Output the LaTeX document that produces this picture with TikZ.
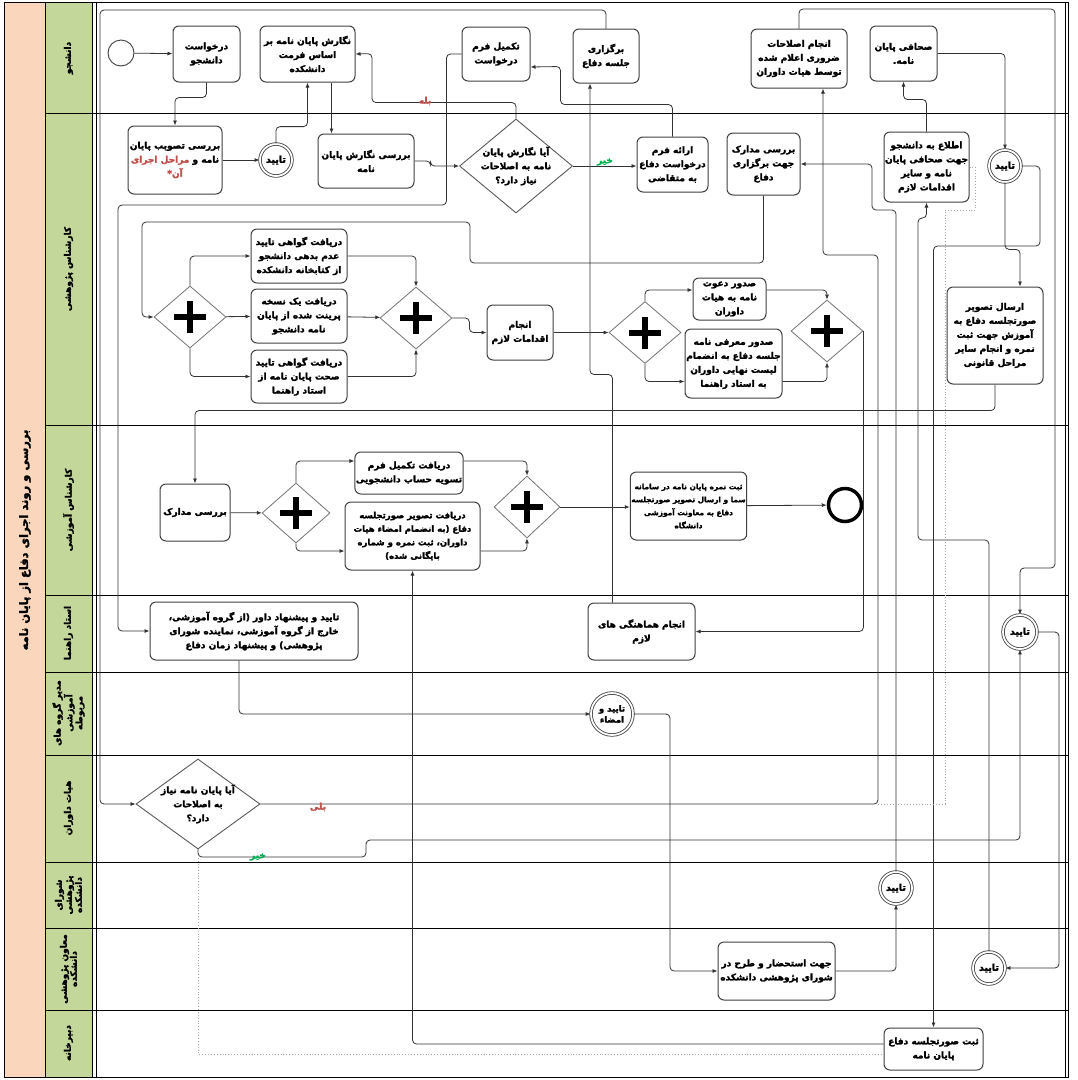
\documentclass[tikz,border=0pt]{standalone}
\usepackage{fontspec}
\usetikzlibrary{shapes.geometric,calc,arrows.meta}
\newfontfamily\fa[Script=Arabic,BoldFeatures={FakeBold=2.2}]{DejaVu Sans}
\TeXXeTstate=1
\newcommand{\rl}[1]{\beginR #1\endR}
\definecolor{poolband}{RGB}{250,215,188}
\definecolor{laneband}{RGB}{196,215,155}
\definecolor{yesred}{RGB}{192,80,77}
\definecolor{nogreen}{RGB}{0,176,80}

\tikzset{
  task/.style={draw=black!75, line width=1pt, rounded corners=6pt, fill=white, align=center, inner sep=1pt,
    font=\fa\bfseries\fontsize{9}{14}\selectfont},
  gate/.style={diamond, draw=black!55, line width=0.8pt, fill=white, inner sep=0pt, minimum width=72pt, minimum height=62pt,
    path picture={
      \fill[black] ([xshift=-16pt,yshift=-3pt]path picture bounding box.center) rectangle ([xshift=16pt,yshift=3pt]path picture bounding box.center);
      \fill[black] ([xshift=-3pt,yshift=-16pt]path picture bounding box.center) rectangle ([xshift=3pt,yshift=16pt]path picture bounding box.center);}},
  decision/.style={diamond, draw=black!65, line width=0.9pt, fill=white, inner sep=0pt},
  dtext/.style={align=center, inner sep=0pt, font=\fa\bfseries\fontsize{9}{14}\selectfont},
  startev/.style={circle, draw=black!75, line width=0.9pt, minimum size=26pt, inner sep=0pt, fill=white},
  okev/.style={circle, draw=black!75, line width=0.8pt, double=white, double distance=1.8pt, minimum size=32pt,
    inner sep=0pt, fill=white, align=center, font=\fa\bfseries\fontsize{9.5}{11}\selectfont},
  stopev/.style={circle, draw=black, line width=3.5pt, minimum size=33pt, inner sep=0pt, fill=white},
  flow/.style={draw=black!80, line width=0.8pt, rounded corners=4pt, -{Latex[length=5pt,width=4pt]}},
  assoc/.style={draw=black!35, line width=0.9pt, dotted},
  lanetxt/.style={rotate=90, align=center, inner sep=0pt, font=\fa\bfseries\fontsize{9}{10}\selectfont},
  yeslbl/.style={text=yesred, inner sep=0pt, font=\fa\bfseries\fontsize{9}{9}\selectfont},
  nolbl/.style={text=nogreen, inner sep=0pt, font=\fa\bfseries\fontsize{9}{9}\selectfont}
}

\begin{document}
\begin{tikzpicture}[x=1pt,y=1pt,yscale=-1,xscale=1]
\useasboundingbox (0,0) rectangle (1078,1080);
\fill[white] (0,0) rectangle (1078,1080);

% pool and lanes
\fill[poolband] (4,2) rectangle (45,1077);
\foreach \ya/\yb in {2/113,113/425,425/595,595/672,672/755,755/862,862/928,928/1010,1010/1077}
  \fill[laneband] (45,\ya) rectangle (92,\yb);
\foreach \y in {113,425,595,672,755,862,928,1010}
  \draw[line width=1pt] (45,\y) -- (1068,\y);
\draw[line width=1pt] (4,2) rectangle (1068,1077);
\draw[line width=1pt] (45,2) -- (45,1077);
\draw[line width=1pt] (92,2) -- (92,1077);
\draw[line width=0.5pt] (96,2) -- (96,1077);
\draw[line width=0.5pt] (1065,2) -- (1065,1077);

% lane titles
\node[lanetxt, font=\fa\bfseries\fontsize{11.5}{13}\selectfont] (poolTitle) at (25,540) {\rl{بررسی و روند اجرای دفاع از پایان نامه}};
\node[lanetxt] (lnStd) at (68.5,58) {\rl{دانشجو}};
\node[lanetxt] (lnRes) at (68.5,269) {\rl{کارشناس پژوهشی}};
\node[lanetxt] (lnEdu) at (68.5,510) {\rl{کارشناس آموزشی}};
\node[lanetxt] (lnAdv) at (68.5,633) {\rl{استاد راهنما}};
\node[lanetxt] (lnHead) at (68.5,713) {\rl{مدیر گروه های}\\\rl{آموزشی}\\\rl{مربوطه}};
\node[lanetxt] (lnJury) at (68.5,808) {\rl{هیات داوران}};
\node[lanetxt] (lnCnl) at (68.5,895) {\rl{شورای}\\\rl{پژوهشی}\\\rl{دانشکده}};
\node[lanetxt] (lnVice) at (68.5,969) {\rl{معاون پژوهشی}\\\rl{دانشکده}};
\node[lanetxt] (lnSec) at (68.5,1043) {\rl{دبیرخانه}};

% student lane
\node[startev] (start) at (121,53) {};
\node[task, minimum width=67pt, minimum height=56pt] (reqStd) at (206.5,54) {\rl{درخواست}\\\rl{دانشجو}};
\node[task, minimum width=95pt, minimum height=56pt] (writeThesis) at (307.5,54) {\rl{نگارش پایان نامه بر}\\\rl{اساس فرمت}\\\rl{دانشکده}};
\node[task, minimum width=68pt, minimum height=54pt] (fillForm) at (496,54) {\rl{تکمیل فرم}\\\rl{درخواست}};
\node[task, minimum width=66pt, minimum height=54pt] (holdDef) at (606,56) {\rl{برگزاری}\\\rl{جلسه دفاع}};
\node[task, minimum width=96pt, minimum height=59pt] (doCorr) at (799,58.5) {\rl{انجام اصلاحات}\\\rl{ضروری اعلام شده}\\\rl{توسط هیات داوران}};
\node[task, minimum width=67pt, minimum height=55pt] (binding) at (903.5,53.5) {\rl{صحافی پایان}\\\rl{نامه.}};

% research expert lane
\node[task, minimum width=94pt, minimum height=68pt] (revAppr) at (175,160) {\rl{بررسی تصویب پایان}\\{\color{yesred}\rl{مراحل اجرای}} \rl{نامه و}\\{\color{yesred}\rl{آن*}}};
\node[okev] (okA) at (276,160) {\rl{تایید}};
\node[task, minimum width=96pt, minimum height=54pt] (revWrite) at (366,161) {\rl{بررسی نگارش پایان}\\\rl{نامه}};
\node[decision, minimum width=113pt, minimum height=94pt] (decWrite) at (516,166) {};
\node[dtext] (decWriteTxt) at (decWrite.center) {\rl{آیا نگارش پایان}\\\rl{نامه به اصلاحات}\\\rl{نیاز دارد؟}};
\node[task, minimum width=71pt, minimum height=55pt] (giveForm) at (672.5,164.5) {\rl{ارائه فرم}\\\rl{درخواست دفاع}\\\rl{به متقاضی}};
\node[task, minimum width=73pt, minimum height=62pt] (revDocs) at (763.5,164) {\rl{بررسی مدارک}\\\rl{جهت برگزاری}\\\rl{دفاع}};
\node[task, minimum width=85pt, minimum height=70pt] (inform) at (926.5,167) {\rl{اطلاع به دانشجو}\\\rl{جهت صحافی پایان}\\\rl{نامه و سایر}\\\rl{اقدامات لازم}};
\node[okev] (okB) at (1005,166) {\rl{تایید}};
\node[gate] (gwA) at (190,317) {};
\node[task, minimum width=96pt, minimum height=54pt] (certLib) at (299,256) {\rl{دریافت گواهی تایید}\\\rl{عدم بدهی دانشجو}\\\rl{از کتابخانه دانشکده}};
\node[task, minimum width=96pt, minimum height=54pt] (printCopy) at (299,316) {\rl{دریافت یک نسخه}\\\rl{پرینت شده از پایان}\\\rl{نامه دانشجو}};
\node[task, minimum width=96pt, minimum height=53pt] (certAdv) at (299,376.5) {\rl{دریافت گواهی تایید}\\\rl{صحت پایان نامه از}\\\rl{استاد راهنما}};
\node[gate] (gwB) at (416,318) {};
\node[task, minimum width=66pt, minimum height=55pt] (doActs) at (520,332.5) {\rl{انجام}\\\rl{اقدامات لازم}};
\node[gate] (gwC) at (645,332.5) {};
\node[task, minimum width=73pt, minimum height=42pt] (invite) at (729.5,299) {\rl{صدور دعوت}\\\rl{نامه به هیات}\\\rl{داوران}};
\node[task, minimum width=97pt, minimum height=69pt] (introLetter) at (733.5,363.5) {\rl{صدور معرفی نامه}\\\rl{جلسه دفاع به انضمام}\\\rl{لیست نهایی داوران}\\\rl{به استاد راهنما}};
\node[gate] (gwD) at (827,331) {};
\node[task, minimum width=96pt, minimum height=97pt] (sendMin) at (995,335.5) {\rl{ارسال تصویر}\\\rl{صورتجلسه دفاع به}\\\rl{آموزش جهت ثبت}\\\rl{نمره و انجام سایر}\\\rl{مراحل قانونی}};

% education expert lane
\node[task, minimum width=70pt, minimum height=57pt] (eduRev) at (195,512.5) {\rl{بررسی مدارک}};
\node[gate, minimum width=68pt, minimum height=60pt] (gwE) at (296,513) {};
\node[task, minimum width=108pt, minimum height=42pt] (settle) at (409,473) {\rl{دریافت تکمیل فرم}\\\rl{تسویه حساب دانشجویی}};
\node[task, minimum width=135pt, minimum height=68pt, font=\fa\bfseries\fontsize{8.5}{13.5}\selectfont] (getMin) at (412.5,536) {\rl{دریافت تصویر صورتجلسه}\\\rl{دفاع (به انضمام امضاء هیات}\\\rl{داوران، ثبت نمره و شماره}\\\rl{بایگانی شده)}};
\node[gate, minimum width=66pt, minimum height=62pt] (gwF) at (527,507) {};
\node[task, minimum width=109pt, minimum height=68pt, font=\fa\bfseries\fontsize{7.4}{13}\selectfont] (regGrade) at (688.5,506) {\rl{ثبت نمره پایان نامه در سامانه}\\\rl{سما و ارسال تصویر صورتجلسه}\\\rl{دفاع به معاونت آموزشی}\\\rl{دانشگاه}};
\node[stopev] (stop) at (845,505) {};

% advisor lane
\node[task, minimum width=208pt, minimum height=58pt] (advProp) at (254,631) {\rl{تایید و پیشنهاد داور (از گروه آموزشی،}\\\rl{خارج از گروه آموزشی، نماینده شورای}\\\rl{پژوهشی) و پیشنهاد زمان دفاع}};
\node[task, minimum width=107pt, minimum height=57pt] (coord) at (641.5,631.5) {\rl{انجام هماهنگی های}\\\rl{لازم}};
\node[okev, minimum size=34pt] (okC) at (1020,632) {\rl{تایید}};

% group head lane
\node[okev, minimum size=42pt, font=\fa\bfseries\fontsize{8.5}{11}\selectfont] (okSign) at (612,714) {\rl{تایید و}\\\rl{امضاء}};

% jury lane
\node[decision, minimum width=124pt, minimum height=90pt] (decCorr) at (198,804) {};
\node[dtext] (decCorrTxt) at (decCorr.center) {\rl{آیا پایان نامه نیاز}\\\rl{به اصلاحات}\\\rl{دارد؟}};

% council, vice dean, secretariat lanes
\node[okev] (okD) at (896,888) {\rl{تایید}};
\node[task, minimum width=117pt, minimum height=58pt] (forCouncil) at (776.5,971) {\rl{جهت استحضار و طرح در}\\\rl{شورای پژوهشی دانشکده}};
\node[okev] (okE) at (989,968) {\rl{تایید}};
\node[task, minimum width=99pt, minimum height=42pt] (regMin) at (933.5,1049) {\rl{ثبت صورتجلسه دفاع}\\\rl{پایان نامه}};

% helper points on node borders
\coordinate (w5) at ($(writeThesis.south)+(24,0)$);
\coordinate (fIn) at ($(fillForm.east)+(0,13)$);
\coordinate (invIn) at ($(invite.west)+(0,-9)$);
\coordinate (invOut) at ($(invite.east)+(0,-9)$);
\coordinate (intIn) at ($(introLetter.west)+(0,18)$);
\coordinate (intOut) at ($(introLetter.east)+(0,18)$);
\coordinate (cUp) at ($(coord.north)+(-29,0)$);
\coordinate (hIn) at ($(holdDef.south)+(-16,0)$);
\coordinate (dIn) at ($(doCorr.south)+(24,0)$);
\coordinate (sIn) at ($(sendMin.north)+(25,0)$);
\coordinate (aOut) at ($(advProp.south)+(-15,0)$);
\coordinate (setIn) at ($(settle.west)+(0,-12)$);
\coordinate (setOut) at ($(settle.east)+(0,-12)$);
\coordinate (gmIn) at ($(getMin.west)+(0,15)$);
\coordinate (gmOut) at ($(getMin.east)+(0,15)$);
\coordinate (rmOut) at ($(regMin.west)+(0,-5)$);
\coordinate (rmDot) at ($(regMin.west)+(0,5)$);

% sequence flows
\draw[flow] (start) -- (reqStd);
\draw[flow] (reqStd.south) -- ++(0,15) -| (revAppr.north);
\draw[flow] (revAppr) -- (okA);
\draw[flow] (okA.north) -- ++(0,-17) -| (writeThesis.south);
\draw[flow] (w5) -- (w5 |- revWrite.north);
\draw[flow] (revWrite.east) -- ++(16,0) |- (decWrite.west);
\draw[flow] (decWrite.north) -- ++(0,-16) -| ++(-144,-49) -- (writeThesis.east);
\draw[flow] (decWrite.east) -- (decWrite.east -| giveForm.west);
\draw[flow] (giveForm.north) -- ++(0,-32) -| ++(-112,-38) -- (fIn);
\draw[flow] (fillForm.west) -- ++(-15,0) |- (118,205) |- (advProp.west);
\draw[flow] (revDocs.south) |- (470,263) |- (142,222) |- (gwA.west);
\draw[flow] (gwA.north) |- (certLib.west);
\draw[flow] (gwA) -- (printCopy);
\draw[flow] (gwA.south) |- (certAdv.west);
\draw[flow] (certLib.east) -| (gwB.north);
\draw[flow] (printCopy) -- (gwB);
\draw[flow] (certAdv.east) -| (gwB.south);
\draw[flow] (gwB.east) -- ++(17,0) |- (doActs.west);
\draw[flow] (doActs) -- (gwC);
\draw[flow] (gwC.north) |- (invIn);
\draw[flow] (gwC.south) |- (intIn);
\draw[flow] (invOut) -| (gwD.north);
\draw[flow] (intOut) -| (gwD.south);
\draw[flow] (gwD.east) |- (coord.east);
\draw[flow] (cUp) -- ++(0,-228) -| (hIn);
\draw[flow] (holdDef.north) |- (100,10) |- (decCorr.west);
\draw[flow] (decCorr.east) -| (878,255) -| (dIn);
\draw[flow] (decCorr.south) |- (366,857) |- (1020,840) -- (okC.south);
\draw[flow] (doCorr.north) |- (1055,9) -- (1055,568) -| (okC.north);
\draw[flow] (okC.east) -| (1059,968) -- (okE.east);
\draw[flow] (aOut) |- (okSign.west);
\draw[flow] (okSign.east) -| (670,971) -- (forCouncil.west);
\draw[flow] (forCouncil.east) -| (okD.south);
\draw[flow] (okD.north) |- (872,210) |- (revDocs.east);
\draw[flow] (okE.north) |- (918,540) -- (918,218) -| (inform.south);
\draw[flow] (inform.north) -- ++(0,-32) -| (binding.south);
\draw[flow] (binding.east) -| (okB.north);
\draw[flow] (okB.south) -- ++(0,67) -| (sIn);
\draw[flow] (okB.east) -| (1040,246) -| (regMin.north);
\draw[flow] (sendMin.south) -- ++(0,26) -| (eduRev.north);
\draw[flow] (eduRev) -- (gwE);
\draw[flow] (gwE.north) |- (setIn);
\draw[flow] (gwE.south) |- (gmIn);
\draw[flow] (setOut) -| (gwF.north);
\draw[flow] (gmOut) -| (gwF.south);
\draw[flow] (gwF.east) -- (gwF.east -| regGrade.west);
\draw[flow] (regGrade) -- (stop);
\draw[flow] (rmOut) -| (getMin.south);

% associations
\draw[assoc] (decCorr.south) |- (rmDot);
\draw[assoc] (inform.east) -- ++(6,0) |- (945,210) |- (878,804);

% gate labels
\node[yeslbl] (lblYesA) at (425,101) {\rl{بله}};
\node[nolbl] (lblNoA) at (605,162) {\rl{خیر}};
\node[yeslbl] (lblYesB) at (318,807) {\rl{بلی}};
\node[nolbl] (lblNoB) at (258,857) {\rl{خیر}};

\end{tikzpicture}
\end{document}
